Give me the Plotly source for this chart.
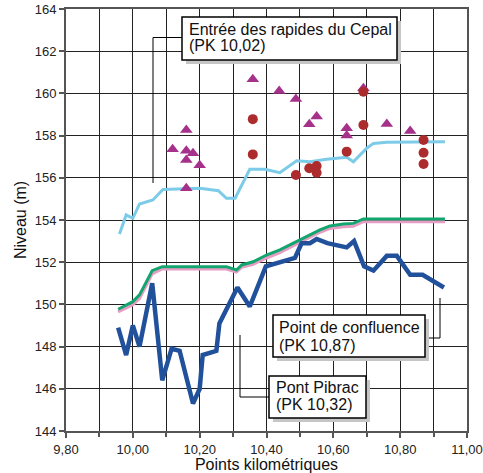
import plotly.graph_objects as go

# ---- data ----
pk_bleu = [9.956, 9.98, 10.00, 10.02, 10.058, 10.088, 10.116, 10.14, 10.18, 10.20, 10.209, 10.25,
           10.259, 10.313, 10.35, 10.398, 10.485, 10.505, 10.53, 10.55, 10.582, 10.64, 10.662,
           10.692, 10.72, 10.76, 10.79, 10.83, 10.867, 10.931]
niv_bleu = [148.9, 147.6, 149.0, 148.0, 151.0, 146.4, 147.9, 147.8, 145.3, 146.0, 147.6, 147.8,
            149.1, 150.8, 149.9, 151.8, 152.2, 152.9, 152.9, 153.1, 152.9, 152.7, 153.0,
            151.8, 151.6, 152.3, 152.3, 151.4, 151.4, 150.8]

pk_vert = [9.956, 9.98, 10.00, 10.02, 10.058, 10.088, 10.28, 10.31, 10.326, 10.36, 10.40, 10.44,
           10.50, 10.53, 10.56, 10.59, 10.63, 10.66, 10.69, 10.934]
niv_vert = [149.77, 149.97, 150.13, 150.45, 151.6, 151.79, 151.79, 151.63, 151.87, 152.02, 152.34,
            152.58, 153.05, 153.29, 153.53, 153.72, 153.81, 153.84, 154.05, 154.05]

pk_rose = [9.956, 9.98, 10.00, 10.02, 10.058, 10.088, 10.28, 10.31, 10.326, 10.36, 10.40, 10.44,
           10.50, 10.53, 10.56, 10.59, 10.63, 10.66, 10.69, 10.934]
niv_rose = [149.65, 149.85, 149.98, 150.28, 151.45, 151.68, 151.68, 151.53, 151.76, 151.9, 152.2,
            152.45, 152.92, 153.16, 153.42, 153.6, 153.68, 153.7, 153.92, 153.92]

pk_ciel = [9.96, 9.98, 10.00, 10.02, 10.06, 10.09, 10.20, 10.256, 10.28, 10.306, 10.35, 10.395,
           10.44, 10.49, 10.53, 10.58, 10.64, 10.66, 10.70, 10.72, 10.76, 10.87, 10.934]
niv_ciel = [153.34, 154.24, 154.08, 154.76, 154.95, 155.45, 155.5, 155.39, 155.03, 155.03, 156.4,
            156.4, 156.24, 156.81, 156.76, 156.88, 156.97, 156.76, 157.4, 157.63, 157.68, 157.71,
            157.71]

pk_tri = [10.119, 10.16, 10.16, 10.18, 10.16, 10.20, 10.16, 10.359, 10.438, 10.488, 10.528, 10.55,
          10.64, 10.64, 10.69, 10.76, 10.83]
niv_tri = [157.35, 158.27, 157.28, 157.16, 156.84, 156.6, 155.5, 160.67, 160.11, 159.73, 158.54,
           158.9, 158.35, 158.0, 160.24, 158.55, 158.22]

pk_rond = [10.359, 10.359, 10.488, 10.528, 10.55, 10.55, 10.64, 10.69, 10.69, 10.87, 10.87, 10.87]
niv_rond = [158.78, 157.11, 156.13, 156.45, 156.56, 156.24, 157.24, 160.08, 158.5, 157.79, 157.19,
            156.65]

x_ticks = [9.8, 10.0, 10.2, 10.4, 10.6, 10.8, 11.0]
x_labels = ["9,80", "10,00", "10,20", "10,40", "10,60", "10,80", "11,00"]
y_ticks = [144, 146, 148, 150, 152, 154, 156, 158, 160, 162, 164]

FONT = "Liberation Sans, Arial, Helvetica, sans-serif"

fig = go.Figure()
fig.add_trace(go.Scatter(x=pk_ciel, y=niv_ciel, mode="lines",
                         line=dict(color="#7ccbe8", width=3)))
fig.add_trace(go.Scatter(x=pk_rose, y=niv_rose, mode="lines",
                         line=dict(color="#e79cc4", width=3)))
fig.add_trace(go.Scatter(x=pk_vert, y=niv_vert, mode="lines",
                         line=dict(color="#12a56e", width=3)))
fig.add_trace(go.Scatter(x=pk_bleu, y=niv_bleu, mode="lines",
                         line=dict(color="#22519c", width=4.5)))
fig.add_trace(go.Scatter(x=pk_tri, y=niv_tri, mode="markers",
                         marker=dict(symbol="triangle-up", size=11, color="#a5318a")))
fig.add_trace(go.Scatter(x=pk_rond, y=niv_rond, mode="markers",
                         marker=dict(symbol="circle", size=10, color="#ac2b2d")))

# layout geometry helpers (pixel -> paper)
L, R, T, B = 66, 467, 9, 431
def px(x):
    return (x - L) / (R - L)
def py(y):
    return (B - y) / (B - T)

shapes = []
annotations = []

def box(x0, y0, x1, y1, lines, tx, ty_list):
    shapes.append(dict(type="rect", xref="paper", yref="paper",
                       x0=px(x0 + 4), x1=px(x1 + 4), y0=py(y1 + 4), y1=py(y0 + 4),
                       fillcolor="#c6c6c6", line=dict(width=0)))
    shapes.append(dict(type="rect", xref="paper", yref="paper",
                       x0=px(x0), x1=px(x1), y0=py(y1), y1=py(y0),
                       fillcolor="white", line=dict(color="black", width=1.5)))
    for t, ty in zip(lines, ty_list):
        annotations.append(dict(text=t, xref="paper", yref="paper", x=px(tx), y=py(ty),
                                xanchor="left", yanchor="middle", showarrow=False,
                                font=dict(family=FONT, size=16, color="#111")))

def leader(points):
    path = "M " + " L ".join(f"{px(a)},{py(b)}" for a, b in points)
    shapes.append(dict(type="path", xref="paper", yref="paper", path=path,
                       line=dict(color="black", width=1)))

leader([(182, 37.5), (153, 37.5), (153, 183)])
leader([(425, 338), (440, 338), (440, 298)])
leader([(269, 397), (240, 397), (240, 335)])

box(182, 17, 397, 60, ["Entrée des rapides du Cepal", "(PK 10,02)"], 187, [29, 46])
box(273, 315, 425, 357, ["Point de confluence", "(PK 10,87)"], 277, [327, 345])
box(269, 376, 366, 418, ["Pont Pibrac", "(PK 10,32)"], 274, [387, 404])

fig.update_layout(
    width=483, height=473,
    margin=dict(l=L, r=483 - R, t=T, b=473 - B, autoexpand=False),
    paper_bgcolor="white", plot_bgcolor="white",
    showlegend=False,
    font=dict(family=FONT, size=13, color="#222"),
    shapes=shapes, annotations=annotations,
    xaxis=dict(range=[9.8, 11.0], tickvals=x_ticks, ticktext=x_labels,
               showgrid=True, gridcolor="#222", gridwidth=1,
               minor=dict(dtick=0.1, tick0=9.8, showgrid=True, gridcolor="#222", gridwidth=1,
                          ticks="outside", ticklen=4, tickcolor="#555", tickwidth=1.5),
               showline=True, linecolor="#555", linewidth=2, mirror=True,
               ticks="outside", ticklen=5, tickcolor="#555", tickwidth=1.5,
               tickfont=dict(size=13, color="#222"), automargin=False,
               title=dict(text="Points kilométriques", font=dict(size=16, color="#111"),
                          standoff=2),
               zeroline=False, fixedrange=True),
    yaxis=dict(range=[144, 164], tickvals=y_ticks,
               showgrid=True, gridcolor="#222", gridwidth=1,
               showline=True, linecolor="#555", linewidth=2, mirror=True,
               ticks="outside", ticklen=5, tickcolor="#555", tickwidth=1.5,
               tickfont=dict(size=13, color="#222"), automargin=False,
               title=dict(text="Niveau (m)", font=dict(size=16, color="#111"), standoff=4),
               zeroline=False, fixedrange=True),
)

fig.write_html("out.html")
